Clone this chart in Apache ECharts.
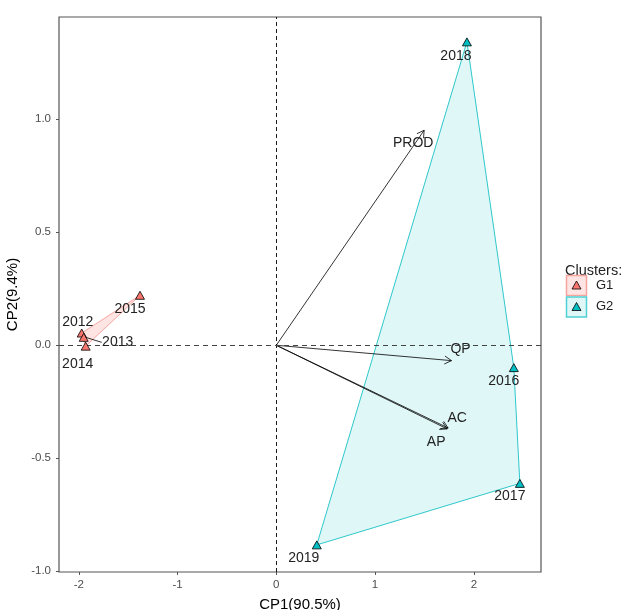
<!DOCTYPE html>
<html><head><meta charset="utf-8">
<script src="https://cdn.jsdelivr.net/npm/echarts@6/dist/echarts.min.js"></script>
<style>html,body{margin:0;padding:0;background:#fff}#c{width:622px;height:610px}</style>
</head><body><div id="c"></div>
<script>
// ---- data ----
const years   = ['2012','2013','2014','2015','2016','2017','2018','2019'];
const cp1     = [-1.97, -1.95, -1.93, -1.38, 2.405, 2.466, 1.93, 0.41];
const cp2     = [0.054, 0.035, -0.004, 0.221, -0.099, -0.611, 1.342, -0.883];
const cluster = ['G1','G1','G1','G1','G2','G2','G2','G2'];
const hullG1  = ['2012','2015','2014'];
const hullG2  = ['2018','2016','2017','2019'];
const varNames = ['PROD','QP','AC','AP'];
const varX     = [1.497, 1.774, 1.74, 1.73];
const varY     = [0.951, -0.068, -0.366, -0.37];
const xTicks = [-2, -1, 0, 1, 2];
const yTicks = [-1, -0.5, 0, 0.5, 1];

// ---- styles ----
const FONT = '"Liberation Sans", Arial, sans-serif';
const colG = {G1:'#F8766D', G2:'#00BFC4'};
const hullFill = {G1:'rgba(248,118,109,0.2)', G2:'rgba(0,191,196,0.12)'};
const hullStroke = {G1:'#F6A7A1', G2:'#2FC8CC'};
const yearLabelOffset = {'2012':[-4,-10.5],'2013':[34,5],'2014':[-8,18],'2015':[-10,14],
  '2016':[-10,14],'2017':[-10,13],'2018':[-11,14.5],'2019':[-13,13.5]};
const yearSegment = ['2013'];
const varLabelOffset = {'PROD':[-11,13],'QP':[9,-11],'AC':[9,-10],'AP':[-11,13]};

function hullSeries(g, names){
  const pts = names.map(n => { const i = years.indexOf(n); return [cp1[i], cp2[i]]; });
  return {
    type:'custom', name:g+' hull', z:1, silent:true, data: pts,
    renderItem:(params, api) => {
      if (params.dataIndex !== 0) return null;
      const poly = pts.map(p => api.coord(p));
      return {type:'polygon', shape:{points:poly},
        style:{fill:hullFill[g], stroke:hullStroke[g], lineWidth:1}};
    }
  };
}

function pointSeries(g){
  const data = [];
  years.forEach((y,i) => { if (cluster[i]===g) data.push({name:y, value:[cp1[i], cp2[i]]}); });
  return {type:'scatter', name:g, z:5, symbol:'triangle', symbolSize:[9,8], data,
    itemStyle:{color:colG[g], borderColor:'#000', borderWidth:0.8, opacity:1}};
}

const option = {
  animation:false,
  backgroundColor:'#fff',
  grid:{left:59, right:81, top:17, bottom:38, show:true, borderColor:'#555', borderWidth:1.2,
    backgroundColor:'transparent', outerBoundsMode:'none', containLabel:false},
  xAxis:{type:'value', min:-2.2, max:2.68,
    axisLine:{show:false, onZero:false},
    axisTick:{show:true, length:3, lineStyle:{color:'#555', width:1}, customValues:xTicks},
    axisLabel:{customValues:xTicks, color:'#4D4D4D', fontSize:11.5, fontFamily:FONT, margin:7},
    splitLine:{show:false},
    name:'CP1(90.5%)', nameLocation:'middle', nameGap:25,
    nameTextStyle:{fontSize:15, color:'#000', fontFamily:FONT}},
  yAxis:{type:'value', min:-1.003, max:1.452,
    axisLine:{show:false, onZero:false},
    axisTick:{show:true, length:3, lineStyle:{color:'#555', width:1}, customValues:yTicks},
    axisLabel:{customValues:yTicks, color:'#4D4D4D', fontSize:11.5, fontFamily:FONT, margin:8,
      formatter:v => Number(v).toFixed(1)},
    splitLine:{show:false},
    name:'CP2(9.4%)', nameLocation:'middle', nameGap:35,
    nameTextStyle:{fontSize:15, color:'#000', fontFamily:FONT}},
  series:[
    hullSeries('G1', hullG1),
    hullSeries('G2', hullG2),
    {type:'scatter', name:'ref lines', data:[], z:2, silent:true,
      markLine:{silent:true, symbol:['none','none'], label:{show:false}, animation:false,
        data:[
          {xAxis:0, lineStyle:{color:'#000', type:[4,3], width:0.9}},
          {yAxis:0, lineStyle:{color:'#444', type:[5,4], width:1.1}}
        ]}},
    {type:'custom', name:'loadings', z:3, silent:true,
      data: varNames.map((n,i) => [varX[i], varY[i]]),
      renderItem:(params, api) => {
        const n = varNames[params.dataIndex];
        const o = api.coord([0,0]);
        const t = api.coord([api.value(0), api.value(1)]);
        const th = Math.atan2(t[1]-o[1], t[0]-o[0]);
        const L = 8, a = Math.PI/6;
        const p1 = [t[0]-L*Math.cos(th-a), t[1]-L*Math.sin(th-a)];
        const p2 = [t[0]-L*Math.cos(th+a), t[1]-L*Math.sin(th+a)];
        const off = varLabelOffset[n];
        return {type:'group', children:[
          {type:'line', shape:{x1:o[0], y1:o[1], x2:t[0], y2:t[1]}, style:{stroke:'#000', lineWidth:0.8}},
          {type:'polyline', shape:{points:[p1,t,p2]}, style:{stroke:'#000', lineWidth:0.8, fill:null}},
          {type:'text', x:t[0]+off[0], y:t[1]+off[1], z2:10,
            style:{text:n, fill:'#222', fontSize:14, fontFamily:FONT, align:'center', verticalAlign:'middle'}}
        ]};
      }},
    pointSeries('G1'),
    pointSeries('G2'),
    {type:'custom', name:'year labels', z:6, silent:true,
      data: years.map((y,i) => [cp1[i], cp2[i]]),
      renderItem:(params, api) => {
        const y = years[params.dataIndex];
        const p = api.coord([api.value(0), api.value(1)]);
        const off = yearLabelOffset[y];
        const ch = [{type:'text', x:p[0]+off[0], y:p[1]+off[1],
          style:{text:y, fill:'#222', fontSize:14, fontFamily:FONT, align:'center', verticalAlign:'middle'}}];
        if (yearSegment.indexOf(y) >= 0) {
          ch.push({type:'line', shape:{x1:p[0]+2, y1:p[1], x2:p[0]+off[0]-16, y2:p[1]+off[1]},
            style:{stroke:'#000', lineWidth:0.8}});
        }
        return {type:'group', children:ch};
      }}
  ],
  graphic:[
    {type:'text', left:565, top:263, style:{text:'Clusters:', fontSize:14.5, fontFamily:FONT, fill:'#222'}},
    {type:'rect', shape:{x:566.5, y:275.5, width:20, height:20}, style:{fill:'#FEE4E2', stroke:'#F6A49E', lineWidth:1.5}},
    {type:'polygon', shape:{points:[[576.5,281],[581,289],[572,289]]}, style:{fill:colG.G1, stroke:'#000', lineWidth:0.8}},
    {type:'text', left:596, top:279, style:{text:'G1', fontSize:13, fontFamily:FONT, fill:'#222'}},
    {type:'rect', shape:{x:566.5, y:297, width:20, height:20}, style:{fill:'#E0F7F8', stroke:'#4FD0D4', lineWidth:1.5}},
    {type:'polygon', shape:{points:[[576.5,302.5],[581,310.5],[572,310.5]]}, style:{fill:colG.G2, stroke:'#000', lineWidth:0.8}},
    {type:'text', left:596, top:300, style:{text:'G2', fontSize:13, fontFamily:FONT, fill:'#222'}}
  ]
};
const chart = echarts.init(document.getElementById('c'), null, {renderer:'canvas'});
chart.setOption(option);
</script></body></html>
